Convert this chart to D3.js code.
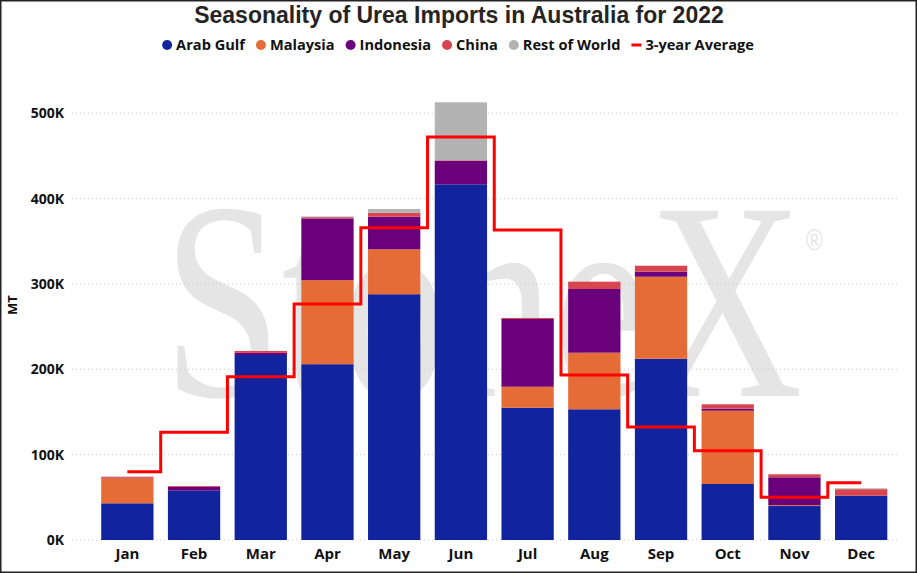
<!DOCTYPE html>
<html>
<head>
<meta charset="utf-8">
<script src="https://cdn.jsdelivr.net/npm/d3@7"></script>
<style>
  body { margin: 0; background: #fff; }
  svg { display: block; }
</style>
</head>
<body>
<svg id="chart"></svg>
<script>
// data (thousand MT)
var months = ["Jan","Feb","Mar","Apr","May","Jun","Jul","Aug","Sep","Oct","Nov","Dec"];
var origins = ["Arab Gulf","Malaysia","Indonesia","China","Rest of World"];
var arabGulf   = [43, 57.8, 216.8, 206, 288, 416.8, 155, 153.2, 212.4, 65.6, 39.8, 51.9];
var malaysia   = [29.5, 0, 0, 98.5, 52.6, 0, 24.6, 66.3, 96.1, 85.9, 1, 0];
var indonesia  = [0.5, 4.5, 2.5, 72.3, 38.2, 27.7, 79.4, 74.6, 5.9, 2.4, 32.7, 0];
var china      = [1.2, 1, 2.2, 1.5, 4.7, 0.5, 1.2, 8.6, 7.0, 5.1, 3.5, 7.7];
var restWorld  = [0, 0, 0, 0.8, 4.4, 67.9, 0, 0, 0, 0, 0, 1];
var avg3yr     = [80, 126.2, 191.4, 276.5, 366, 472.2, 363.3, 193.3, 132.4, 104.6, 50, 67.1];
var yTicks     = [0, 100, 200, 300, 400, 500];

var colors = ["#12239E","#E66C37","#6B007B","#D64550","#B3B3B3"];
var lineColor = "#FF0000";

var screen = {width: 917, height: 573};

var rows = months.map(function(m, i){
  return {month: m, "Arab Gulf": arabGulf[i], "Malaysia": malaysia[i],
          "Indonesia": indonesia[i], "China": china[i], "Rest of World": restWorld[i]};
});

var svg = d3.select("#chart")
  .attr("width", screen.width)
  .attr("height", screen.height);

svg.append("rect")
  .attr("x", 0.75).attr("y", 0.75)
  .attr("width", screen.width - 1.5).attr("height", screen.height - 1.5)
  .attr("fill", "#fff").attr("stroke", "#222").attr("stroke-width", 1.5);

var xScale = d3.scaleBand()
  .domain(months)
  .range([94, 894.5])
  .paddingInner(0.216)
  .paddingOuter(0.108);

var yScale = d3.scaleLinear()
  .domain([0, 500])
  .range([540, 113.3]);

var cScale = d3.scaleOrdinal().domain(origins).range(colors);

// watermark (logo in the background), one text squeezed to the logo width
var mark = svg.append("text")
  .attr("font-family", "'Liberation Serif', 'DejaVu Serif', serif")
  .attr("font-size", 283)
  .attr("fill", "#E5E5E5");
mark.append("tspan").text("StoneX");
mark.append("tspan")
  .attr("font-family", "'Liberation Sans', sans-serif")
  .attr("font-size", 30)
  .attr("dx", 4).attr("dy", -146)
  .text("\u00AE");
var natural = mark.node().getSubStringLength(0, 6);
mark.attr("transform", "translate(163,396) scale(" + (640 / natural) + ",1)");

// gridlines
svg.append("g")
  .selectAll("line")
  .data(yTicks)
  .enter()
  .append("line")
  .attr("x1", 72).attr("x2", 897)
  .attr("y1", function(d){ return yScale(d); })
  .attr("y2", function(d){ return yScale(d); })
  .attr("stroke", "#C8C8C8")
  .attr("stroke-width", 1)
  .attr("stroke-dasharray", "1,3");

// y axis
var yAxis = d3.axisLeft(yScale)
  .tickValues(yTicks)
  .tickSize(0)
  .tickPadding(0)
  .tickFormat(function(d){ return d + "K"; });

var yG = svg.append("g")
  .attr("transform", "translate(64,0)")
  .call(yAxis);
yG.select(".domain").remove();
yG.selectAll("text")
  .attr("font-family", "'Open Sans', 'DejaVu Sans', sans-serif")
  .attr("font-weight", "bold")
  .attr("font-size", 14)
  .attr("fill", "#111");

svg.append("text")
  .attr("transform", "translate(17,305) rotate(-90)")
  .attr("text-anchor", "middle")
  .attr("font-family", "'Open Sans', 'DejaVu Sans', sans-serif")
  .attr("font-weight", "bold")
  .attr("font-size", 13)
  .attr("fill", "#111")
  .text("MT");

// x axis
var xAxis = d3.axisBottom(xScale).tickSize(0).tickPadding(8);
var xG = svg.append("g")
  .attr("transform", "translate(0,540)")
  .call(xAxis);
xG.select(".domain").remove();
xG.selectAll("text")
  .attr("font-family", "'Open Sans', 'DejaVu Sans', sans-serif")
  .attr("font-weight", "bold")
  .attr("font-size", 15)
  .attr("fill", "#111");

// stacked bars
var stack = d3.stack().keys(origins);
var series = stack(rows);

svg.append("g")
  .selectAll("g")
  .data(series)
  .enter()
  .append("g")
  .attr("fill", function(s){ return cScale(s.key); })
  .selectAll("rect")
  .data(function(s){ return s; })
  .enter()
  .append("rect")
  .attr("x", function(d){ return xScale(d.data.month); })
  .attr("width", xScale.bandwidth())
  .attr("y", function(d){ return yScale(d[1]); })
  .attr("height", function(d){ return yScale(d[0]) - yScale(d[1]); });

// 3-year average step line
var lineGenerator = d3.line()
  .x(function(d, i){ return xScale(months[i]) + xScale.bandwidth() / 2; })
  .y(function(d){ return yScale(d); })
  .curve(d3.curveStep);

svg.append("path")
  .datum(avg3yr)
  .attr("d", lineGenerator)
  .attr("fill", "none")
  .attr("stroke", lineColor)
  .attr("stroke-width", 3);

// title
svg.append("text")
  .attr("x", 459).attr("y", 23)
  .attr("text-anchor", "middle")
  .attr("font-family", "'Liberation Sans', Arial, sans-serif")
  .attr("font-weight", "bold")
  .attr("font-size", 23)
  .attr("fill", "#252423")
  .text("Seasonality of Urea Imports in Australia for 2022");

// legend
var legendItems = origins.map(function(o){ return {name: o, type: "dot"}; });
legendItems.push({name: "3-year Average", type: "line"});

var legend = svg.append("g").attr("transform", "translate(0,45)");
var gap = 11;
var items = legend.selectAll("g")
  .data(legendItems)
  .enter()
  .append("g");

items.each(function(d){
  var g = d3.select(this);
  if (d.type === "dot") {
    g.append("circle").attr("cx", 5).attr("cy", 0).attr("r", 5)
      .attr("fill", cScale(d.name));
  } else {
    g.append("line").attr("x1", 0).attr("x2", 10).attr("y1", 0).attr("y2", 0)
      .attr("stroke", lineColor).attr("stroke-width", 3);
  }
  var t = g.append("text")
    .attr("x", 14)
    .attr("y", 5)
    .attr("font-family", "'Open Sans', 'DejaVu Sans', sans-serif")
    .attr("font-weight", "bold")
    .attr("font-size", 14.6)
    .attr("fill", "#111")
    .text(d.name);
  d.w = 14 + t.node().getComputedTextLength();
});

var total = d3.sum(legendItems, function(d){ return d.w; }) + gap * (legendItems.length - 1);
var lx = 458 - total / 2;
items.attr("transform", function(d){
  var x = lx;
  lx += d.w + gap;
  return "translate(" + x + ",0)";
});
</script>
</body>
</html>
